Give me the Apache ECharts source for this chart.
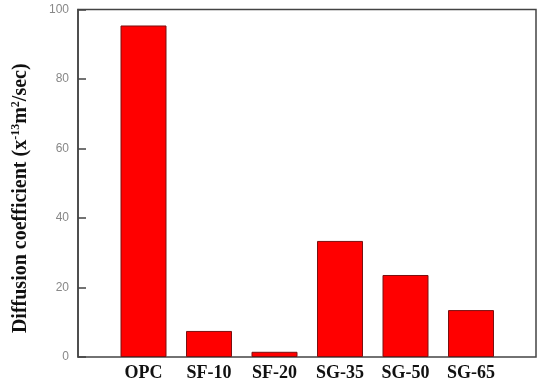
<!DOCTYPE html>
<html><head><meta charset="utf-8">
<script src="https://cdn.jsdelivr.net/npm/echarts@6/dist/echarts.min.js"></script>
<style>html,body{margin:0;padding:0;background:#fff}#c{width:540px;height:386px}</style>
</head><body><div id="c"></div>
<script>
const categories = ['OPC', 'SF-10', 'SF-20', 'SG-35', 'SG-50', 'SG-65'];
const values = [95.4, 7.5, 1.5, 33.4, 23.6, 13.5];
const yTicks = [0, 20, 40, 60, 80, 100];

const chart = echarts.init(document.getElementById('c'), null, {renderer: 'canvas'});
const gTop = 9.5, gBottom = 29;
chart.setOption({
  animation: false,
  grid: [
    {left: 78, right: 4, top: gTop, bottom: gBottom, show: true, borderColor: '#444', borderWidth: 1.5, backgroundColor: 'transparent'},
    {left: 110.75, right: 36.25, top: gTop, bottom: gBottom}
  ],
  xAxis: [
    {gridIndex: 0, type: 'value', min: 0, max: 1, show: false},
    {gridIndex: 1, type: 'category', data: categories,
     axisLine: {show: false}, axisTick: {show: false},
     axisLabel: {margin: 7, color: '#111', fontFamily: 'Liberation Serif', fontWeight: 'bold', fontSize: 18}}
  ],
  yAxis: [
    {gridIndex: 0, type: 'value', min: yTicks[0], max: yTicks[yTicks.length - 1], interval: 20,
     splitLine: {show: false},
     axisLine: {show: true, lineStyle: {color: '#444', width: 1.5}},
     axisTick: {show: true, inside: true, length: 8, lineStyle: {color: '#444', width: 1.5}},
     axisLabel: {margin: 9, color: '#888', fontFamily: 'Liberation Sans', fontSize: 12},
     name: '{b|Diffusion coefficient (x}{s|-13}{b|m}{s|2}{b|/sec)}',
     nameLocation: 'middle', nameGap: 47, nameRotate: 90,
     nameTextStyle: {
       padding: [0, 0, 0, -30],
       rich: {
         b: {fontFamily: 'Liberation Serif', fontWeight: 'bold', fontSize: 20, color: '#111'},
         s: {fontFamily: 'Liberation Serif', fontWeight: 'bold', fontSize: 12, color: '#111', verticalAlign: 'top', padding: [0, 0, 9, 0]}
       }
     }},
    {gridIndex: 1, type: 'value', min: 0, max: 100, show: false}
  ],
  series: [{
    type: 'bar', xAxisIndex: 1, yAxisIndex: 1, data: values, barWidth: 46,
    itemStyle: {color: '#ff0000', borderColor: '#7a1010', borderWidth: 1}
  }]
});
</script></body></html>
